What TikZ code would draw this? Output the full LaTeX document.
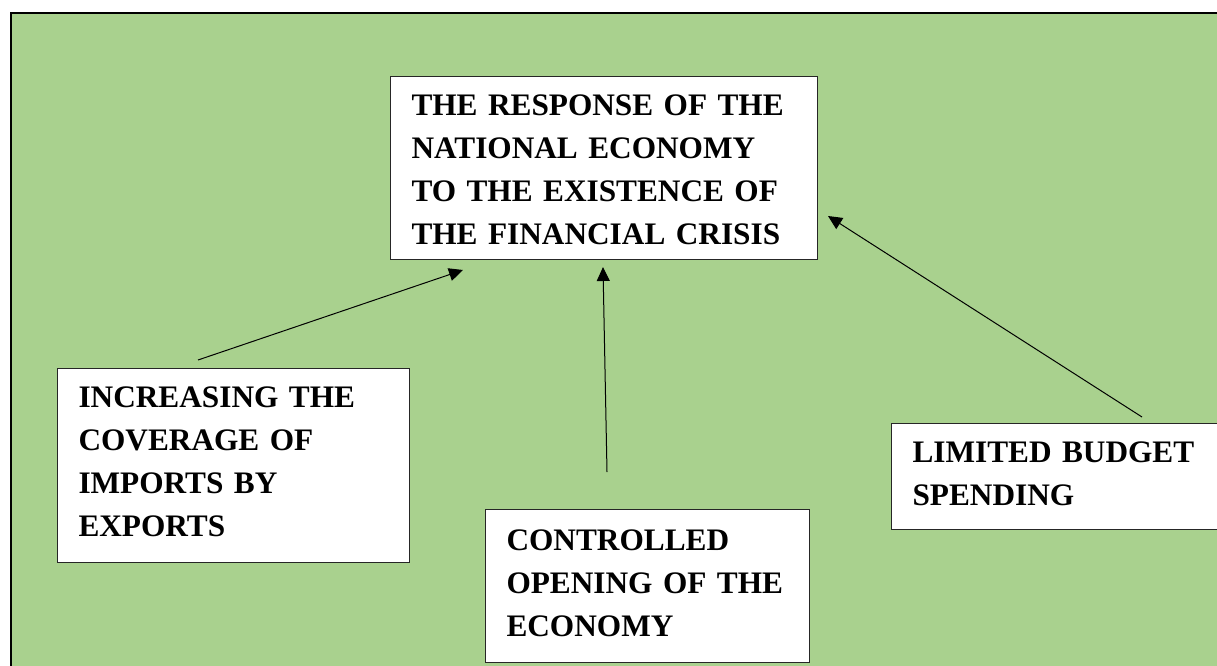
\documentclass[tikz,border=0pt]{standalone}
\usepackage{fontspec}
\setmainfont{Liberation Serif}
\usetikzlibrary{arrows.meta}
\definecolor{bggreen}{HTML}{A9D18E}
\newcommand{\boxline}[1]{\mbox{#1}}
\begin{document}
\begin{tikzpicture}[x=1pt,y=-1pt,
  box/.style={draw=black!85, line width=1pt, fill=white, anchor=north west,
    align=left, inner xsep=21pt, inner ysep=0pt, text height=39pt,
    font=\fontsize{31.3}{43}\selectfont\bfseries},
  conn/.style={line width=1pt, -{Triangle[length=14pt,width=13pt]}}]
\useasboundingbox (0,0) rectangle (1217,666);
\begin{scope}
\clip (0,0) rectangle (1217,666);
\draw[fill=bggreen, line width=2pt] (11,13) rectangle (1240,690);
\node[box, text width=385pt, text depth=144pt] (main) at (390,76)
  {\boxline{THE RESPONSE OF THE}\\\boxline{NATIONAL ECONOMY}\\\boxline{TO THE EXISTENCE OF}\\\boxline{THE FINANCIAL CRISIS}};
\node[box, text width=310pt, text depth=155pt] (imports) at (57,368)
  {\boxline{INCREASING THE}\\\boxline{COVERAGE OF}\\\boxline{IMPORTS BY}\\\boxline{EXPORTS}};
\node[box, text width=282pt, text depth=112pt, text height=41pt] (opening) at (485,509)
  {\boxline{CONTROLLED}\\\boxline{OPENING OF THE}\\\boxline{ECONOMY}};
\node[box, text width=320pt, text depth=67pt] (budget) at (891,423)
  {\boxline{LIMITED BUDGET}\\\boxline{SPENDING}};
\coordinate (s1) at (198,360);
\coordinate (e1) at (463,270);
\coordinate (s2) at (607,472);
\coordinate (e2) at (603,267);
\coordinate (s3) at (1142,417);
\coordinate (e3) at (828,216);
\draw[conn] (s1) -- (e1);
\draw[conn] (s2) -- (e2);
\draw[conn] (s3) -- (e3);
\end{scope}
\end{tikzpicture}
\end{document}
